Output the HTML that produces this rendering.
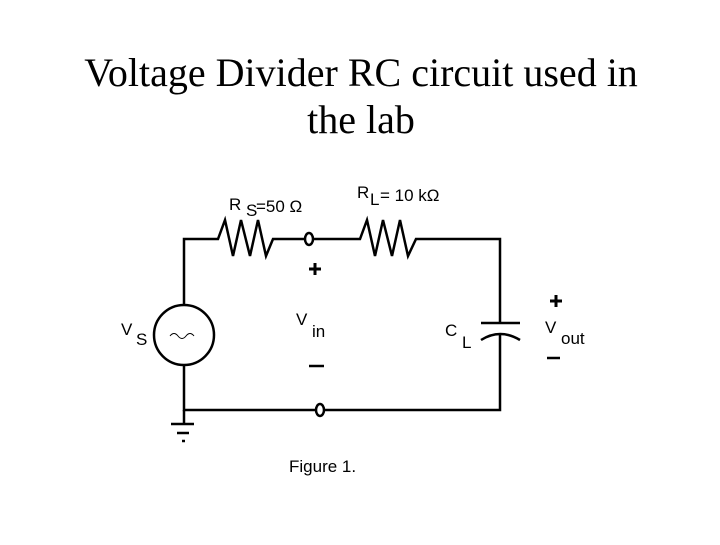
<!DOCTYPE html>
<html><head><style>
body{margin:0;width:720px;height:540px;background:#fff;overflow:hidden}
</style></head><body>
<svg width="720" height="540" xmlns="http://www.w3.org/2000/svg">
<text x="361" y="86" font-family="Liberation Serif, serif" font-size="40" text-anchor="middle">Voltage Divider RC circuit used in</text>
<text x="361" y="133" font-family="Liberation Serif, serif" font-size="40" text-anchor="middle">the lab</text>
<g fill="none" stroke="#000" stroke-width="2.5">
<polyline points="184,305 184,239 218,239 225,220 233,256 241,220 250,256 258,220 266,256 273,239 305,239"/>
<polyline points="313,239 360,239 367,220 375,256 383,220 392,256 400,220 408,256 416,239 500,239 500,322"/>
<line x1="481" y1="323" x2="520" y2="323"/>
<path d="M481,340 Q500,328 520,340"/>
<polyline points="500,334 500,410 324,410"/>
<polyline points="316,410 184,410 184,365"/>
<circle cx="184" cy="335" r="30"/>
<path d="M170,336 q4,-5 8,0 t8,0 t8,0" stroke-width="1"/>
<ellipse cx="309" cy="239" rx="4" ry="6"/>
<ellipse cx="320" cy="410" rx="4" ry="6"/>
<line x1="184" y1="410" x2="184" y2="424"/>
<line x1="171" y1="424" x2="194" y2="424"/>
<line x1="177" y1="433" x2="189" y2="433"/>
<line x1="182" y1="441" x2="185" y2="441"/>
<line x1="309" y1="269" x2="321" y2="269" stroke-width="3"/>
<line x1="315" y1="263" x2="315" y2="275" stroke-width="3"/>
<line x1="309" y1="366" x2="324" y2="366"/>
<line x1="550" y1="301" x2="562" y2="301" stroke-width="3"/>
<line x1="556" y1="295" x2="556" y2="307" stroke-width="3"/>
<line x1="547" y1="358" x2="560" y2="358"/>
</g>
<g font-family="Liberation Sans, sans-serif" font-size="17" fill="#000">
<text x="229" y="210">R</text><text x="246" y="216">S</text><text x="256" y="212">=50 Ω</text>
<text x="357" y="198">R</text><text x="370" y="205">L</text><text x="380" y="201">= 10 kΩ</text>
<text x="121" y="335">V</text><text x="136" y="345">S</text>
<text x="296" y="325">V</text><text x="312" y="337">in</text>
<text x="445" y="336">C</text><text x="462" y="348">L</text>
<text x="545" y="333">V</text><text x="561" y="344">out</text>
<text x="289" y="472">Figure 1.</text>
</g>
</svg>
</body></html>
